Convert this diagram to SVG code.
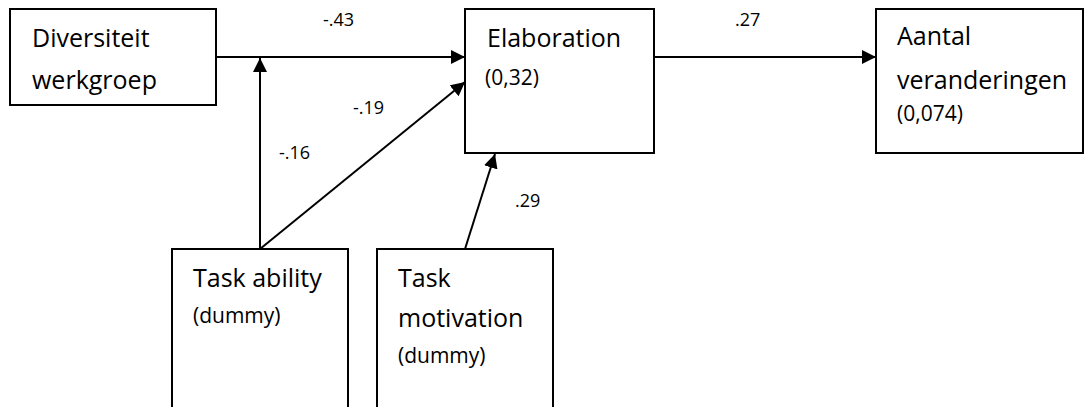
<svg xmlns="http://www.w3.org/2000/svg" width="1085" height="407" viewBox="0 0 1085 407">
  <style>
    .box { fill: #fff; stroke: #000; stroke-width: 2; }
    .big { font-family: "Open Sans", "Liberation Sans", sans-serif; font-size: 25px; fill: #000; }
    .small { font-family: "Open Sans", "Liberation Sans", sans-serif; font-size: 21px; fill: #000; }
    .coef { font-family: "Open Sans", "Liberation Sans", sans-serif; font-size: 18px; fill: #000; }
    .edge { fill: none; stroke: #000; stroke-width: 2; }
  </style>
  <defs>
    <marker id="arrow" viewBox="0 0 14 14" refX="14" refY="7" markerWidth="14" markerHeight="14" markerUnits="userSpaceOnUse" orient="auto">
      <path d="M0,0 L14,7 L0,14 Z" fill="#000"/>
    </marker>
  </defs>
  <rect width="1085" height="407" fill="#fff"/>

  <g id="node-diversiteit">
    <rect class="box" x="10" y="9" width="206" height="96"/>
    <text class="big" x="32" y="47">Diversiteit</text>
    <text class="big" x="32" y="89">werkgroep</text>
  </g>

  <g id="node-elaboration">
    <rect class="box" x="465" y="9" width="189" height="144"/>
    <text class="big" x="487" y="47">Elaboration</text>
    <text class="small" x="485" y="85">(0,32)</text>
  </g>

  <g id="node-aantal">
    <rect class="box" x="876" y="9" width="207" height="144"/>
    <text class="big" x="897" y="45">Aantal</text>
    <text class="big" x="897" y="89">veranderingen</text>
    <text class="small" x="897" y="121">(0,074)</text>
  </g>

  <g id="node-task-ability">
    <rect class="box" x="172" y="249" width="176" height="170"/>
    <text class="big" x="193" y="287">Task ability</text>
    <text class="small" x="193" y="323">(dummy)</text>
  </g>

  <g id="node-task-motivation">
    <rect class="box" x="377" y="249" width="176" height="170"/>
    <text class="big" x="398" y="287">Task</text>
    <text class="big" x="398" y="327">motivation</text>
    <text class="small" x="398" y="363">(dummy)</text>
  </g>

  <g id="connectors">
    <line class="edge" x1="216" y1="57" x2="465" y2="57" marker-end="url(#arrow)"/>
    <line class="edge" x1="260" y1="249" x2="260" y2="58" marker-end="url(#arrow)"/>
    <line class="edge" x1="260" y1="249" x2="465" y2="82" marker-end="url(#arrow)"/>
    <line class="edge" x1="465" y1="249" x2="495" y2="154" marker-end="url(#arrow)"/>
    <line class="edge" x1="654" y1="57" x2="876" y2="57" marker-end="url(#arrow)"/>
    <text class="coef" x="323" y="26">-.43</text>
    <text class="coef" x="735" y="26">.27</text>
    <text class="coef" x="353" y="114">-.19</text>
    <text class="coef" x="279" y="159">-.16</text>
    <text class="coef" x="515" y="207">.29</text>
  </g>
</svg>
